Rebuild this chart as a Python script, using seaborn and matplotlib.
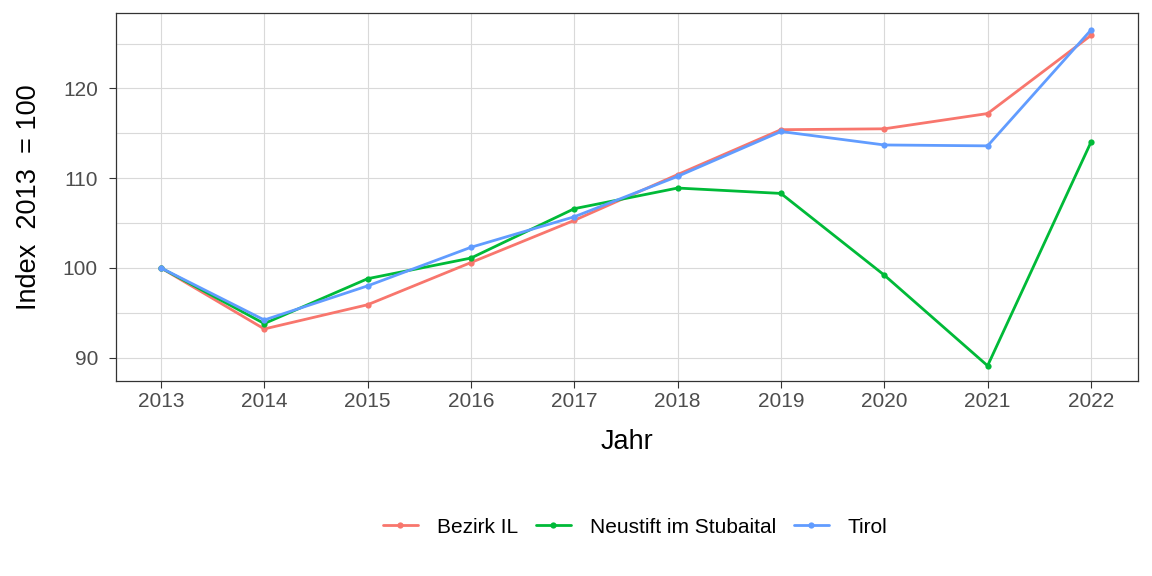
import numpy as np
import pandas as pd
import matplotlib
matplotlib.use("Agg")
import matplotlib.pyplot as plt
import seaborn as sns

jahre = [2013, 2014, 2015, 2016, 2017, 2018, 2019, 2020, 2021, 2022]
bezirk_il = [100.0, 93.2, 95.9, 100.6, 105.3, 110.4, 115.4, 115.5, 117.2, 125.9]
neustift = [100.0, 93.8, 98.8, 101.1, 106.6, 108.9, 108.3, 99.2, 89.1, 114.0]
tirol = [100.0, 94.2, 98.0, 102.3, 105.7, 110.2, 115.2, 113.7, 113.6, 126.5]
regionen = ["Bezirk IL", "Neustift im Stubaital", "Tirol"]
farben = ["#F8766D", "#00BA38", "#619CFF"]

df = pd.DataFrame({
    "Jahr": jahre * 3,
    "Index": bezirk_il + neustift + tirol,
    "Region": [r for r in regionen for _ in jahre],
})

sns.set_style("white")
plt.rcParams["font.family"] = ["Liberation Sans", "DejaVu Sans"]

fig = plt.figure(figsize=(11.52, 5.76), dpi=100)
ax = fig.add_axes([0.1007, 0.3385, 0.8871, 0.6389])

# gridlines (major + minor) like ggplot theme_bw
for y in np.arange(85, 130, 5):
    ax.axhline(y, color="#d9d9d9", lw=0.8, zorder=0)
for x in jahre:
    ax.axvline(x, color="#d9d9d9", lw=0.8, zorder=0)

sns.lineplot(data=df, x="Jahr", y="Index", hue="Region", palette=farben,
             marker="o", markersize=4.5, markeredgewidth=0, linewidth=2.0,
             ax=ax, zorder=3)

ax.set_xlim(2012.565, 2022.455)
ax.set_ylim(87.4, 128.4)
ax.set_xticks(jahre)
ax.set_yticks([90, 100, 110, 120])
ax.tick_params(axis="both", which="major", labelsize=15, labelcolor="#4d4d4d",
               length=5, width=0.8, color="#333333", direction="out")
ax.tick_params(axis="x", pad=3)
ax.tick_params(axis="y", pad=8)
ax.tick_params(left=True, bottom=True)
for s in ax.spines.values():
    s.set_color("#333333")
    s.set_linewidth(0.9)

ax.set_xlabel("Jahr", fontsize=19.5, labelpad=13, color="black")
ax.set_ylabel("Index  2013  = 100", fontsize=19.5, labelpad=15, color="black")

leg = ax.legend(loc="center", bbox_to_anchor=(0.508, -0.397), ncol=3, frameon=False,
                fontsize=15, handlelength=1.7, columnspacing=0.85, handletextpad=0.9)
for t in leg.get_texts():
    t.set_color("black")

fig.savefig("out.png", dpi=100)
